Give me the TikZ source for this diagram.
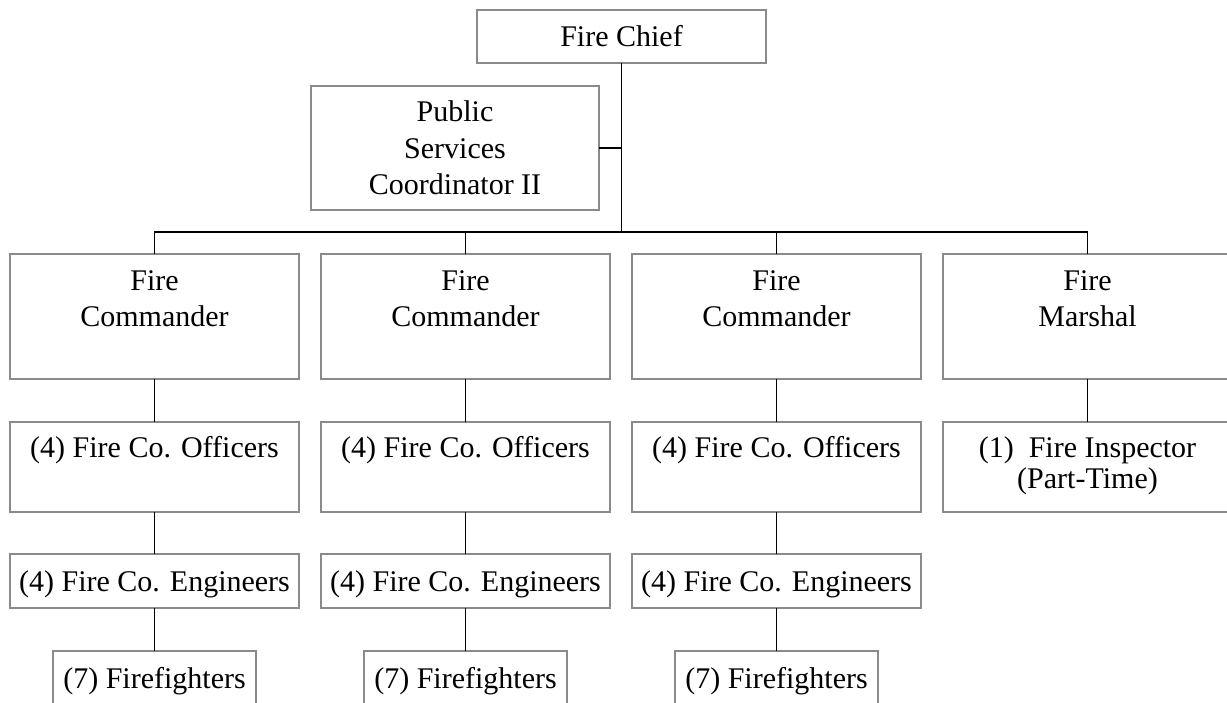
\documentclass[tikz,border=0pt]{standalone}
\usepackage{fontspec}
\setmainfont{Liberation Serif}
\definecolor{boxgray}{RGB}{138,138,138}
\begin{document}
\begin{tikzpicture}[x=1pt,y=-1pt,
  box/.style={draw=boxgray, line width=1.5pt, inner sep=0pt, outer sep=0pt, anchor=north west},
  link/.style={draw=black, line width=1.5pt},
  lbl/.style={font=\fontsize{30}{36.5}\selectfont, align=center, inner sep=0pt, anchor=base}]
\useasboundingbox (0,0) rectangle (1227,702);
\clip (0,0) rectangle (1227,702);

% top of the chart (labels sit on the baseline of their last line)
\node[box, minimum width=289pt, minimum height=53pt] (chief) at (477,10) {};
\node[lbl] (chiefT) at (621.5,46) {Fire Chief};
\node[box, minimum width=288pt, minimum height=124pt] (psc) at (311,86) {};
\node[lbl] (pscT) at (455,194.5) {Public\\Services\\Coordinator II};

% division heads
\node[box, minimum width=289pt, minimum height=125pt] (fc1) at (10,254) {};
\node[box, minimum width=289pt, minimum height=125pt] (fc2) at (321,254) {};
\node[box, minimum width=289pt, minimum height=125pt] (fc3) at (632,254) {};
\node[box, minimum width=289pt, minimum height=125pt] (fm)  at (943,254) {};
\node[lbl] (fc1T) at (154.5,326.5) {Fire\\Commander};
\node[lbl] (fc2T) at (465.5,326.5) {Fire\\Commander};
\node[lbl] (fc3T) at (776.5,326.5) {Fire\\Commander};
\node[lbl] (fmT)  at (1087.5,326.5) {Fire\\Marshal};

% officers and inspector
\node[box, minimum width=289pt, minimum height=90pt] (of1) at (10,422) {};
\node[box, minimum width=289pt, minimum height=90pt] (of2) at (321,422) {};
\node[box, minimum width=289pt, minimum height=90pt] (of3) at (632,422) {};
\node[box, minimum width=289pt, minimum height=90pt] (ins) at (943,422) {};
\node[lbl] (of1T) at (154.5,457.7) {(4) Fire Co. Officers};
\node[lbl] (of2T) at (465.5,457.7) {(4) Fire Co. Officers};
\node[lbl] (of3T) at (776.5,457.7) {(4) Fire Co. Officers};
\node[lbl] (insT) at (1087.5,488.5) {(1)\ \ Fire Inspector\\[-5.5pt](Part-Time)};

% engineers
\node[box, minimum width=289pt, minimum height=54pt] (en1) at (10,554) {};
\node[box, minimum width=289pt, minimum height=54pt] (en2) at (321,554) {};
\node[box, minimum width=289pt, minimum height=54pt] (en3) at (632,554) {};
\node[lbl] (en1T) at (154.5,591) {(4) Fire Co. Engineers};
\node[lbl] (en2T) at (465.5,591) {(4) Fire Co. Engineers};
\node[lbl] (en3T) at (776.5,591) {(4) Fire Co. Engineers};

% firefighters (boxes run past the lower edge)
\node[box, minimum width=203pt, minimum height=80pt] (ff1) at (53,651) {};
\node[box, minimum width=203pt, minimum height=80pt] (ff2) at (364,651) {};
\node[box, minimum width=203pt, minimum height=80pt] (ff3) at (675,651) {};
\node[lbl] (ff1T) at (154.5,688) {(7) Firefighters};
\node[lbl] (ff2T) at (465.5,688) {(7) Firefighters};
\node[lbl] (ff3T) at (776.5,688) {(7) Firefighters};

% connectors
\coordinate (bus) at (621.5,232);
\draw[link] (chief.south) -- (bus);
\draw[link] (psc.east) -- (psc.east -| chief.south);
\draw[link] (fc1.north) -- (fc1.north |- bus) -- (fm.north |- bus) -- (fm.north);
\draw[link] (fc2.north) -- (fc2.north |- bus);
\draw[link] (fc3.north) -- (fc3.north |- bus);
\draw[link] (fc1.south) -- (of1.north);
\draw[link] (fc2.south) -- (of2.north);
\draw[link] (fc3.south) -- (of3.north);
\draw[link] (fm.south) -- (ins.north);
\draw[link] (of1.south) -- (en1.north);
\draw[link] (of2.south) -- (en2.north);
\draw[link] (of3.south) -- (en3.north);
\draw[link] (en1.south) -- (ff1.north);
\draw[link] (en2.south) -- (ff2.north);
\draw[link] (en3.south) -- (ff3.north);
\end{tikzpicture}
\end{document}
